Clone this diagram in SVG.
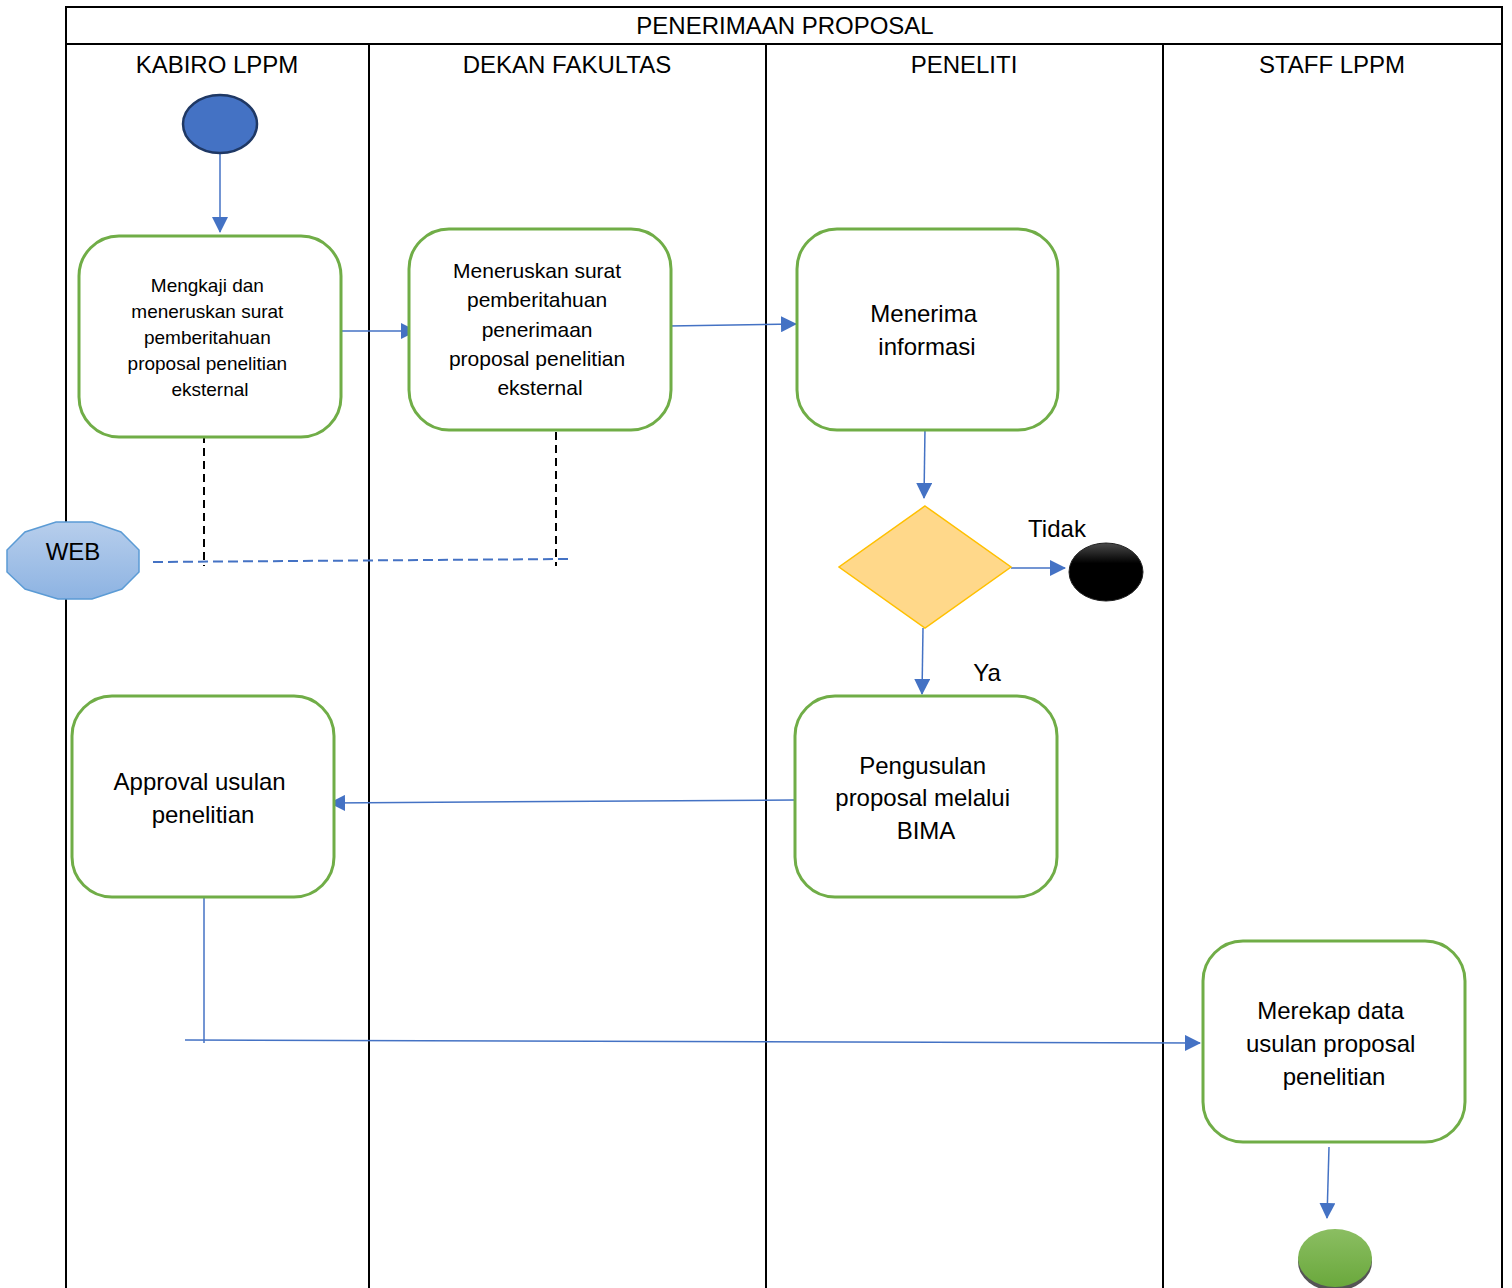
<svg xmlns="http://www.w3.org/2000/svg" width="1512" height="1288" viewBox="0 0 1512 1288">
  <style>
    .lane { fill: none; stroke: #000; stroke-width: 2; }
    .hdr { font-family: "Liberation Sans", Arial, sans-serif; font-size: 24px; fill: #000; text-anchor: middle; }
    .box { fill: #fff; stroke: #70AD47; stroke-width: 3; }
    .txt { font-family: "Liberation Sans", Arial, sans-serif; fill: #000; text-anchor: middle; }
    .flow { fill: none; stroke: #4472C4; stroke-width: 1.5; }
    .link { fill: none; stroke: #000; stroke-width: 2; stroke-dasharray: 8 5; }
    .webline { fill: none; stroke: #4472C4; stroke-width: 2; stroke-dasharray: 10 5; }
  </style>
  <defs>
    <marker id="arrow" viewBox="0 0 10 10" refX="9" refY="5" markerWidth="10" markerHeight="10" markerUnits="userSpaceOnUse" orient="auto">
      <path d="M0,0 L10,5 L0,10 z" fill="#4472C4"/>
    </marker>
    <marker id="arrowL" viewBox="0 0 16 16" refX="15" refY="8" markerWidth="16" markerHeight="16" markerUnits="userSpaceOnUse" orient="auto">
      <path d="M0,0 L16,8 L0,16 z" fill="#4472C4"/>
    </marker>
    <linearGradient id="webFill" x1="0" y1="0" x2="0" y2="1">
      <stop offset="0" stop-color="#B7CEEC"/>
      <stop offset="1" stop-color="#8DB3E2"/>
    </linearGradient>
    <linearGradient id="endFill" x1="0" y1="0" x2="0" y2="1">
      <stop offset="0" stop-color="#4a4a4a"/>
      <stop offset="0.35" stop-color="#000"/>
      <stop offset="1" stop-color="#000"/>
    </linearGradient>
    <linearGradient id="greenFill" x1="0" y1="0" x2="0" y2="1">
      <stop offset="0" stop-color="#8BBE62"/>
      <stop offset="1" stop-color="#6AA83C"/>
    </linearGradient>
  </defs>

  <!-- swimlane frame -->
  <g id="lanes">
    <rect class="lane" x="66" y="7" width="1436" height="1300"/>
    <line class="lane" x1="66" y1="44" x2="1502" y2="44"/>
    <line class="lane" x1="369" y1="44" x2="369" y2="1288"/>
    <line class="lane" x1="766" y1="44" x2="766" y2="1288"/>
    <line class="lane" x1="1163" y1="44" x2="1163" y2="1288"/>
    <text class="hdr" x="785" y="34">PENERIMAAN PROPOSAL</text>
    <text class="hdr" x="217" y="73">KABIRO LPPM</text>
    <text class="hdr" x="567" y="73">DEKAN FAKULTAS</text>
    <text class="hdr" x="964" y="73">PENELITI</text>
    <text class="hdr" x="1332" y="73">STAFF LPPM</text>
  </g>

  <!-- connectors -->
  <g id="connectors">
    <line class="flow" x1="220" y1="154" x2="220" y2="232" marker-end="url(#arrowL)"/>
    <line class="flow" x1="341" y1="331" x2="416" y2="331" marker-end="url(#arrowL)"/>
    <line class="flow" x1="669" y1="326" x2="796" y2="324" marker-end="url(#arrowL)"/>
    <line class="flow" x1="925" y1="428" x2="924" y2="498" marker-end="url(#arrowL)"/>
    <line class="flow" x1="1011" y1="568" x2="1065" y2="568" marker-end="url(#arrowL)"/>
    <line class="flow" x1="923" y1="628" x2="922" y2="694" marker-end="url(#arrowL)"/>
    <line class="flow" x1="795" y1="800" x2="330" y2="803" marker-end="url(#arrowL)"/>
    <line class="flow" x1="204" y1="895" x2="204" y2="1043"/>
    <line class="flow" x1="185" y1="1040" x2="1200" y2="1043" marker-end="url(#arrowL)"/>
    <line class="flow" x1="1329" y1="1147" x2="1327" y2="1218" marker-end="url(#arrowL)"/>
    <line class="link" x1="204" y1="435" x2="204" y2="566"/>
    <line class="link" x1="556" y1="432" x2="556" y2="566"/>
    <line class="webline" x1="153" y1="562" x2="568" y2="559"/>
  </g>

  <!-- start -->
  <g id="start">
    <ellipse cx="220" cy="124" rx="37" ry="29" fill="#4472C4" stroke="#1F3864" stroke-width="2.5"/>
  </g>

  <g id="kaji">
    <rect class="box" x="79" y="236" width="262" height="201" rx="40"/>
    <text class="txt" font-size="19" x="210">
      <tspan x="210" y="292">Mengkaji dan</tspan>
      <tspan x="210" y="318">meneruskan surat</tspan>
      <tspan x="210" y="344">pemberitahuan</tspan>
      <tspan x="210" y="370">proposal penelitian</tspan>
      <tspan x="210" y="396">eksternal</tspan>
    </text>
  </g>

  <g id="teruskan">
    <rect class="box" x="409" y="229" width="262" height="201" rx="40"/>
    <text class="txt" font-size="21">
      <tspan x="540" y="278">Meneruskan surat</tspan>
      <tspan x="540" y="307">pemberitahuan</tspan>
      <tspan x="540" y="337">penerimaan</tspan>
      <tspan x="540" y="366">proposal penelitian</tspan>
      <tspan x="540" y="395">eksternal</tspan>
    </text>
  </g>

  <g id="terima">
    <rect class="box" x="797" y="229" width="261" height="201" rx="40"/>
    <text class="txt" font-size="24">
      <tspan x="927" y="322">Menerima</tspan>
      <tspan x="927" y="355">informasi</tspan>
    </text>
  </g>

  <g id="decision">
    <polygon points="925,506 1011,567 925,628 839,567" fill="#FFD88A" stroke="#FFC000" stroke-width="1.5"/>
    <text class="txt" font-size="24" x="1057" y="537">Tidak</text>
    <text class="txt" font-size="24" x="987" y="681">Ya</text>
  </g>

  <g id="end-reject">
    <ellipse cx="1106" cy="572" rx="37" ry="29" fill="url(#endFill)" stroke="#222" stroke-width="1"/>
  </g>

  <g id="usulan">
    <rect class="box" x="795" y="696" width="262" height="201" rx="40"/>
    <text class="txt" font-size="24">
      <tspan x="926" y="774">Pengusulan</tspan>
      <tspan x="926" y="806">proposal melalui</tspan>
      <tspan x="926" y="839">BIMA</tspan>
    </text>
  </g>

  <g id="approval">
    <rect class="box" x="72" y="696" width="262" height="201" rx="40"/>
    <text class="txt" font-size="24">
      <tspan x="203" y="790">Approval usulan</tspan>
      <tspan x="203" y="823">penelitian</tspan>
    </text>
  </g>

  <g id="web">
    <polygon points="56,522 92,522 121,532 139,550 139,572 122,589 92,599 58,599 25,589 7,572 7,550 25,532" fill="url(#webFill)" stroke="#5B9BD5" stroke-width="1.5"/>
    <text class="txt" font-size="24" x="73" y="560">WEB</text>
  </g>

  <g id="rekap">
    <rect class="box" x="1203" y="941" width="262" height="201" rx="40"/>
    <text class="txt" font-size="24">
      <tspan x="1334" y="1019">Merekap data</tspan>
      <tspan x="1334" y="1052">usulan proposal</tspan>
      <tspan x="1334" y="1085">penelitian</tspan>
    </text>
  </g>

  <g id="end">
    <ellipse cx="1335" cy="1262" rx="37" ry="29" fill="#555"/>
    <ellipse cx="1335" cy="1258" rx="37" ry="29" fill="url(#greenFill)"/>
  </g>
</svg>
